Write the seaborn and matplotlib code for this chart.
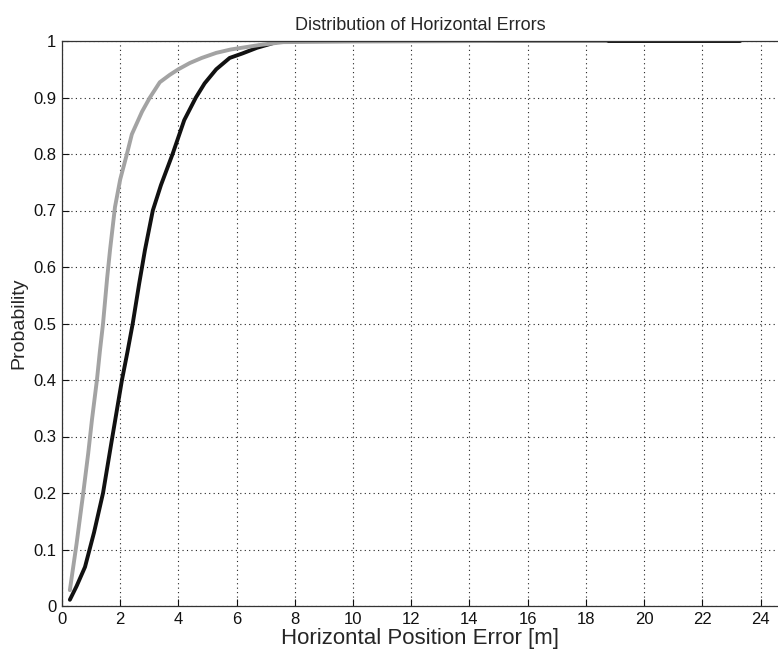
import matplotlib
matplotlib.use("Agg")
import matplotlib.pyplot as plt
import seaborn as sns
import pandas as pd

# Black curve (slower CDF)
black_x = [0.27, 0.5, 0.79, 1.1, 1.41, 1.7, 2.06, 2.25, 2.43, 2.65, 2.85, 3.12, 3.4, 3.8, 4.2, 4.6, 4.9, 5.3, 5.76, 6.2, 6.7, 7.5, 10.0, 15.0, 20.0, 23.3]
black_p = [0.011, 0.035, 0.069, 0.13, 0.20, 0.29, 0.40, 0.45, 0.50, 0.57, 0.63, 0.70, 0.745, 0.80, 0.86, 0.90, 0.925, 0.95, 0.97, 0.978, 0.988, 1.0, 1.0, 1.0, 1.0, 1.0]

# Gray curve (faster CDF)
gray_x = [0.27, 0.5, 0.73, 0.9, 1.03, 1.2, 1.3, 1.41, 1.55, 1.65, 1.82, 2.0, 2.23, 2.4, 2.75, 3.02, 3.36, 3.7, 4.0, 4.39, 4.8, 5.3, 5.8, 6.8, 7.6, 10.0, 15.0, 18.7]
gray_p = [0.028, 0.11, 0.20, 0.27, 0.33, 0.40, 0.45, 0.50, 0.58, 0.63, 0.706, 0.755, 0.80, 0.835, 0.875, 0.90, 0.927, 0.94, 0.95, 0.961, 0.97, 0.979, 0.985, 0.993, 0.998, 0.999, 1.0, 1.0]

x_ticks = list(range(0, 25, 2))
y_ticks = [0, 0.1, 0.2, 0.3, 0.4, 0.5, 0.6, 0.7, 0.8, 0.9, 1]
y_tick_labels = ["0", "0.1", "0.2", "0.3", "0.4", "0.5", "0.6", "0.7", "0.8", "0.9", "1"]

df = pd.concat([
    pd.DataFrame({"x": black_x, "p": black_p, "series": "black"}),
    pd.DataFrame({"x": gray_x, "p": gray_p, "series": "gray"}),
], ignore_index=True)

sns.set_style("ticks")
plt.rcParams["font.family"] = ["Liberation Sans", "DejaVu Sans"]

fig = plt.figure(figsize=(7.78, 6.6), dpi=100)
ax = fig.add_axes([62 / 778, 1 - 606 / 660, 1 - 62 / 778, (606 - 41) / 660])

sns.lineplot(data=df, x="x", y="p", hue="series",
             palette={"black": "#111111", "gray": "#a3a3a3"},
             hue_order=["black", "gray"], linewidth=2.8,
             estimator=None, sort=False, legend=False, ax=ax)

ax.set_xlim(0, 24.6)
ax.set_ylim(0, 1)
ax.set_xticks(x_ticks)
ax.set_xticklabels([str(t) for t in x_ticks])
ax.set_yticks(y_ticks)
ax.set_yticklabels(y_tick_labels)
ax.grid(True, linestyle=(0, (1, 3)), color="#222222", linewidth=0.8)
ax.tick_params(direction="in", length=5, labelsize=12, colors="#111111", pad=4)
for s in ax.spines.values():
    s.set_color("#333333")
    s.set_linewidth(0.9)
ax.spines["right"].set_visible(False)

ax.set_title("Distribution of Horizontal Errors", fontsize=13, pad=8)
ax.set_xlabel("Horizontal Position Error [m]", fontsize=16, labelpad=1)
ax.set_ylabel("Probability", fontsize=14, labelpad=4)

fig.savefig("out.png", dpi=100)
